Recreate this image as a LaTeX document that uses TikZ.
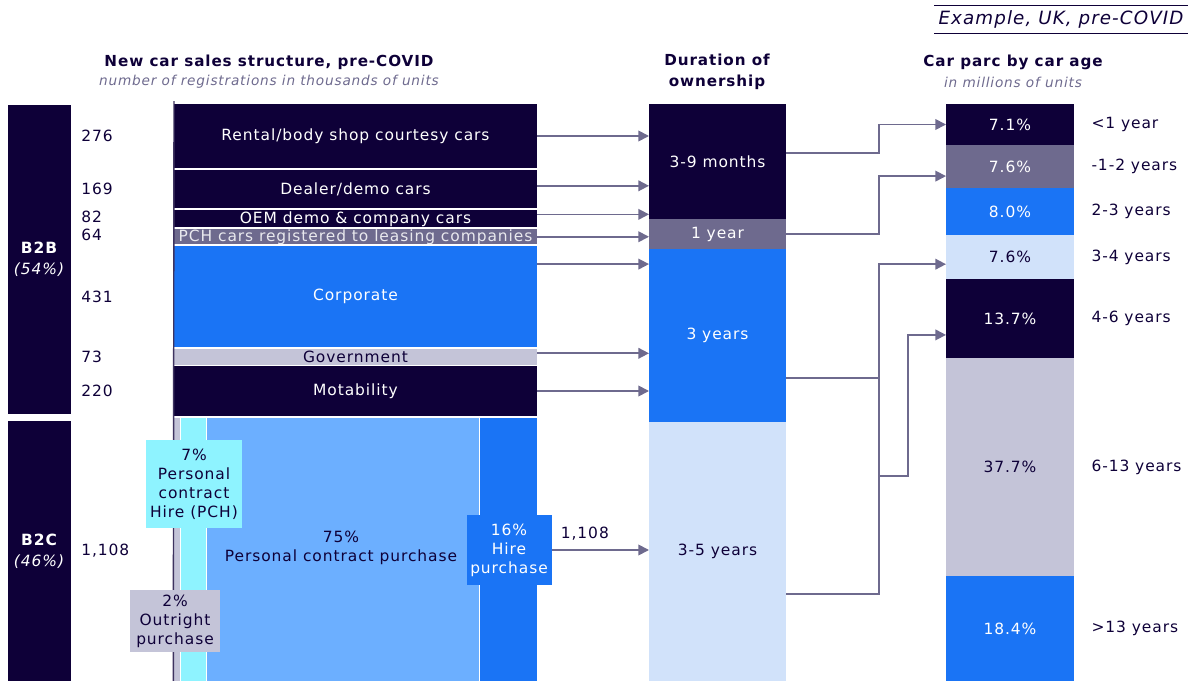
\documentclass[tikz,border=0pt]{standalone}
\usepackage{fontspec}
\setmainfont{DejaVu Sans}[LetterSpace=6]
\usepackage{xcolor}
\usepackage{tikz}
\usetikzlibrary{arrows.meta, positioning}

\definecolor{navy}{HTML}{0E0038}
\definecolor{slate}{HTML}{6E6A8E}
\definecolor{azure}{HTML}{1A74F5}
\definecolor{sky}{HTML}{6CAFFF}
\definecolor{aqua}{HTML}{8EF3FF}
\definecolor{mist}{HTML}{D1E2FA}
\definecolor{haze}{HTML}{C4C4D8}

\begin{document}
\begin{tikzpicture}[
    x=0.025cm, y=-0.025cm,
    part/.style n args={2}{
        rectangle,
        anchor=north west,
        inner sep=0pt, outer sep=0pt,
        minimum width=#1*0.025cm,
        minimum height=#2*0.025cm,
        font=\fontsize{11}{13}\selectfont,
        text=white
    },
    tag/.style = {
        rectangle,
        inner sep=0pt,
        align=center,
        text=navy,
        font=\fontsize{11}{13.5}\selectfont
    },
    count/.style = {anchor=west, inner sep=0pt, text=navy, font=\fontsize{11}{13}\selectfont},
    head/.style = {align=center, inner sep=0pt, text=navy, font=\fontsize{10.8}{15}\selectfont\bfseries},
    sub/.style = {inner sep=0pt, text=slate, font=\fontsize{9.7}{12}\selectfont\itshape},
    flow/.style = {draw=slate, line width=1.2pt, -{Triangle[length=7.5pt, width=7.5pt]}},
    link/.style = {draw=slate, line width=1.2pt}
]
\useasboundingbox (0,0) rectangle (1188,681);

% headers
\node[head] (salestitle) at (269,62) {New car sales structure, pre-COVID};
\node[sub] (salessub) at (269,82) {number of registrations in thousands of units};
\node[head] (durtitle) at (717,72) {Duration of\\ownership};
\node[head] (parctitle) at (1013,62) {Car parc by car age};
\node[sub] (parcsub) at (1013,82) {in millions of units};
\node[inner sep=0pt, minimum width=253*0.025cm, minimum height=27*0.025cm, text=navy,
      font=\fontsize{13}{15}\selectfont\itshape] (example) at (1061,19.5) {Example, UK, pre-COVID};
\draw[navy, line width=1pt] (example.north west) -- (example.north east);
\draw[navy, line width=1pt] (example.south west) -- (example.south east);

% segment bars
\node[part={63}{309}, fill=navy, align=center] (b2b) at (8,105) {\textbf{B2B}\\[2pt]\textit{(54\%)}};
\node[part={63}{260}, fill=navy, align=center] (b2c) at (8,421) {\textbf{B2C}\\[2pt]\textit{(46\%)}};

% new car sales stack
\node[part={363}{64}, fill=navy] (rental) at (174,104) {Rental/body shop courtesy cars};
\node[part={363}{38}, fill=navy] (dealer) at (174,170) {Dealer/demo cars};
\node[part={363}{17.5}, fill=navy] (oem) at (174,210) {OEM demo \& company cars};
\node[part={363}{15.5}, fill=slate, text=white!85!slate] (pchcars) at (174,229) {PCH cars registered to leasing companies};
\node[part={363}{101}, fill=azure] (corporate) at (174,246) {Corporate};
\node[part={363}{16}, fill=haze, text=navy] (government) at (174,348.5) {Government};
\node[part={363}{50}, fill=navy] (motability) at (174,366) {Motability};
\node[part={6}{263}, fill=haze] (outright) at (174,418) {};
\node[part={25}{263}, fill=aqua] (pch) at (181,418) {};
\node[part={272}{263}, fill=sky] (pcp) at (207,418) {};
\node[part={57}{263}, fill=azure] (hp) at (480,418) {};
\draw[navy!80!white, line width=1pt] ([yshift=2pt]rental.north west) -- ([xshift=-0.5pt]outright.south west);

% B2C labels
\node[tag, fill=aqua, minimum width=96*0.025cm, minimum height=88*0.025cm] (pchlabel) at (194,484)
    {7\%\\Personal\\contract\\Hire (PCH)};
\node[tag, fill=haze, minimum width=90*0.025cm, minimum height=62*0.025cm] (outrightlabel) at (175,621)
    {2\%\\Outright\\purchase};
\node[tag] (pcplabel) at (341,548) {75\%\\Personal contract purchase};
\node[tag, fill=azure, text=white, minimum width=85*0.025cm, minimum height=70*0.025cm] (hplabel) at (509,550)
    {16\%\\Hire\\purchase};

% volumes
\coordinate (numx) at (81,0);
\node[count] (n276) at (rental.west -| numx) {276};
\node[count] (n169) at (dealer.west -| numx) {169};
\node[count] (n82) at ([yshift=1.5pt]oem.west -| numx) {82};
\node[count] (n64) at ([yshift=1.5pt]pchcars.west -| numx) {64};
\node[count] (n431) at (corporate.west -| numx) {431};
\node[count] (n73) at (government.west -| numx) {73};
\node[count] (n220) at (motability.west -| numx) {220};
\node[count] (n1108) at (b2c.east -| numx) {1,108};

% duration of ownership
\node[part={137}{115}, fill=navy] (months) at (649,104) {3-9 months};
\node[part={137}{30}, fill=slate] (oneyear) at (649,219) {1 year};
\node[part={137}{173}, fill=azure] (threeyr) at (649,249) {3 years};
\node[part={137}{259}, fill=mist, text=navy] (fiveyr) at (649,422) {3-5 years};

% car parc
\node[part={128}{41}, fill=navy] (age1) at (946,104) {7.1\%};
\node[part={128}{43}, fill=slate] (age2) at (946,145) {7.6\%};
\node[part={128}{47}, fill=azure] (age3) at (946,188) {8.0\%};
\node[part={128}{44}, fill=mist, text=navy] (age4) at (946,235) {7.6\%};
\node[part={128}{79}, fill=navy] (age5) at (946,279) {13.7\%};
\node[part={128}{218}, fill=haze, text=navy] (age6) at (946,358) {37.7\%};
\node[part={128}{105}, fill=azure] (age7) at (946,576) {18.4\%};

\node[count, right=0.43cm of age1.east] (lab1) {<1 year};
\node[count, right=0.43cm of age2.east] (lab2) {-1-2 years};
\node[count, right=0.43cm of age3.east] (lab3) {2-3 years};
\node[count, right=0.43cm of age4.east] (lab4) {3-4 years};
\node[count, right=0.43cm of age5.east] (lab5) {4-6 years};
\node[count, right=0.43cm of age6.east] (lab6) {6-13 years};
\node[count, right=0.43cm of age7.east] (lab7) {>13 years};

% sales -> duration
\draw[flow] (rental.east) -- (rental.east -| months.west);
\draw[flow] ([yshift=0.08cm]dealer.east) -- ([yshift=0.08cm]dealer.east -| months.west);
\draw[flow] ([yshift=0.11cm]oem.east) -- ([yshift=0.11cm]oem.east -| months.west);
\draw[flow] (pchcars.east) -- (pchcars.east -| oneyear.west);
\draw[flow] ([yshift=0.81cm]corporate.east) -- ([yshift=0.81cm]corporate.east -| threeyr.west);
\draw[flow] ([yshift=0.08cm]government.east) -- ([yshift=0.08cm]government.east -| threeyr.west);
\draw[flow] (motability.east) -- (motability.east -| threeyr.west);
\draw[flow] (hplabel.east) -- (hplabel.east -| fiveyr.west);
\node[count] (hpcount) at ([yshift=0.4cm, xshift=0.22cm]hplabel.east) {1,108};

% duration -> car parc
\coordinate (bus) at (879,0);
\coordinate (bus2) at (908,0);
\coordinate (fork) at (879,476);
\coordinate (in2) at ([yshift=-0.24cm]age2.west);
\coordinate (in4) at ([yshift=-0.18cm]age4.west);
\coordinate (in5) at ([yshift=-0.41cm]age5.west);
\draw[flow] ([yshift=0.21cm]months.east) -| (bus |- age1.west) -- (age1.west);
\draw[flow] (oneyear.east) -| (bus |- in2) -- (in2);
\draw[link] ([yshift=-1.06cm]threeyr.east) -- ([yshift=-1.06cm]threeyr.east -| bus);
\draw[flow] ([yshift=-1.06cm]fiveyr.east) -| (bus |- in4) -- (in4);
\draw[flow] (fork) -| (bus2 |- in5) -- (in5);

\end{tikzpicture}
\end{document}
